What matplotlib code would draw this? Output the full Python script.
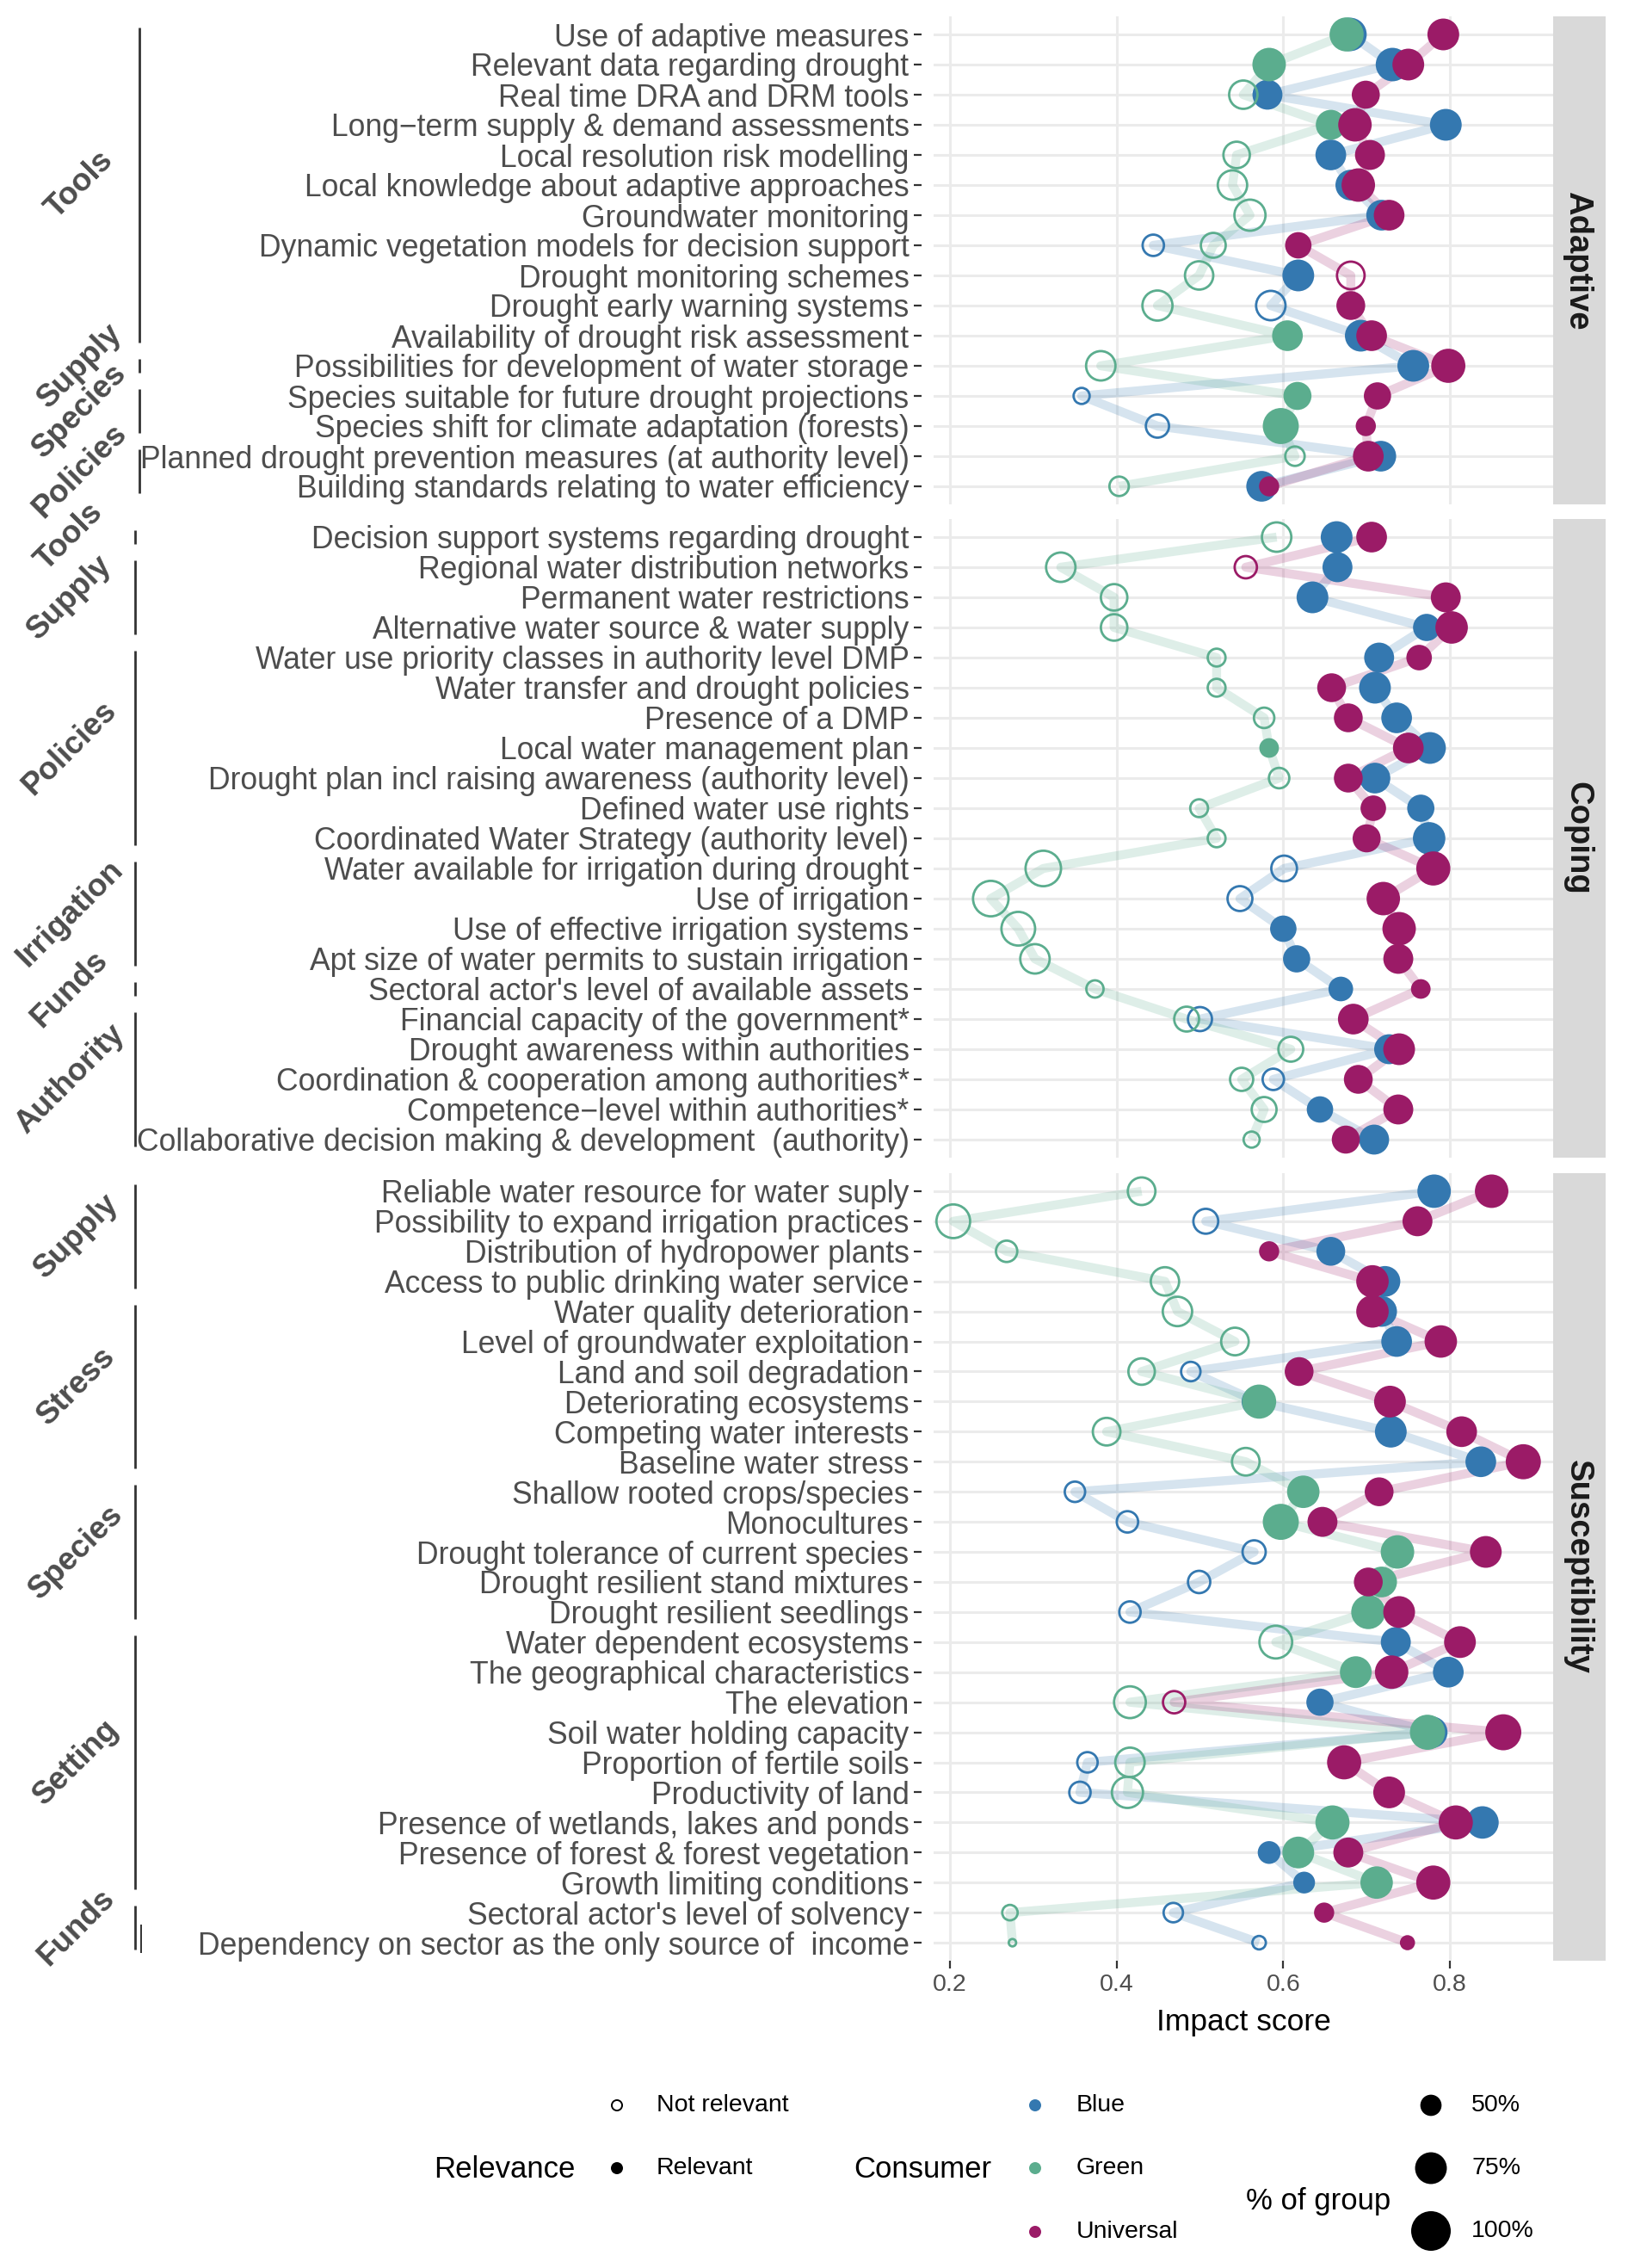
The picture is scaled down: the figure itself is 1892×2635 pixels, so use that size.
"""Impact scores per drought factor, split by consumer group (Adaptive / Coping / Susceptibility)."""

import matplotlib

matplotlib.use("Agg")
import matplotlib.pyplot as plt  # noqa: E402
import matplotlib.transforms as mtransforms  # noqa: E402
from matplotlib.patches import Rectangle  # noqa: E402
import numpy as np  # noqa: E402

plt.rcParams["font.family"] = ["Liberation Sans", "DejaVu Sans"]

# ---------------------------------------------------------------- data
adaptive_items = [
    "Use of adaptive measures",
    "Relevant data regarding drought",
    "Real time DRA and DRM tools",
    "Long\u2212term supply & demand assessments",
    "Local resolution risk modelling",
    "Local knowledge about adaptive approaches",
    "Groundwater monitoring",
    "Dynamic vegetation models for decision support",
    "Drought monitoring schemes",
    "Drought early warning systems",
    "Availability of drought risk assessment",
    "Possibilities for development of water storage",
    "Species suitable for future drought projections",
    "Species shift for climate adaptation (forests)",
    "Planned drought prevention measures (at authority level)",
    "Building standards relating to water efficiency",
]
adaptive_blue = [0.680, 0.731, 0.581, 0.795, 0.657, 0.681, 0.718, 0.444, 0.618, 0.585, 0.693, 0.756, 0.358, 0.449, 0.717, 0.574]
adaptive_blue_pct = [80, 80, 70, 75, 72, 72, 72, 55, 75, 75, 75, 75, 45, 59, 72, 72]
adaptive_blue_rel = [1, 1, 1, 1, 1, 1, 1, 0, 1, 0, 1, 1, 0, 0, 1, 1]
adaptive_green = [0.676, 0.583, 0.552, 0.657, 0.544, 0.539, 0.560, 0.516, 0.499, 0.449, 0.605, 0.381, 0.617, 0.597, 0.614, 0.403]
adaptive_green_pct = [82, 80, 72, 70, 67, 75, 80, 63, 72, 77, 72, 75, 65, 88, 51, 51]
adaptive_green_rel = [1, 1, 0, 1, 0, 0, 0, 0, 0, 0, 1, 0, 1, 1, 0, 0]
adaptive_univ = [0.792, 0.750, 0.699, 0.686, 0.704, 0.690, 0.727, 0.618, 0.681, 0.681, 0.706, 0.798, 0.713, 0.699, 0.702, 0.583]
adaptive_univ_pct = [75, 75, 65, 80, 70, 80, 72, 61, 70, 67, 72, 82, 63, 48, 72, 48]
adaptive_univ_rel = [1, 1, 1, 1, 1, 1, 1, 1, 0, 1, 1, 1, 1, 1, 1, 1]

coping_items = [
    "Decision support systems regarding drought",
    "Regional water distribution networks",
    "Permanent water restrictions",
    "Alternative water source & water supply",
    "Water use priority classes in authority level DMP",
    "Water transfer and drought policies",
    "Presence of a DMP",
    "Local water management plan",
    "Drought plan incl raising awareness (authority level)",
    "Defined water use rights",
    "Coordinated Water Strategy (authority level)",
    "Water available for irrigation during drought",
    "Use of irrigation",
    "Use of effective irrigation systems",
    "Apt size of water permits to sustain irrigation",
    "Sectoral actor's level of available assets",
    "Financial capacity of the government*",
    "Drought awareness within authorities",
    "Coordination & cooperation among authorities*",
    "Competence\u2212level within authorities*",
    "Collaborative decision making & development  (authority)",
]
coping_blue = [0.664, 0.665, 0.635, 0.772, 0.715, 0.710, 0.736, 0.776, 0.710, 0.765, 0.775,
               0.601, 0.548, 0.600, 0.616, 0.669, 0.500, 0.727, 0.588, 0.644, 0.709]
coping_blue_pct = [75, 70, 75, 63, 70, 75, 72, 75, 72, 63, 77, 65, 63, 61, 63, 57, 61, 70, 55, 61, 70]
coping_blue_rel = [1, 1, 1, 1, 1, 1, 1, 1, 1, 1, 1, 0, 0, 1, 1, 1, 0, 1, 0, 1, 1]
coping_green = [0.592, 0.333, 0.397, 0.397, 0.520, 0.520, 0.577, 0.583, 0.595, 0.499, 0.520,
                0.312, 0.249, 0.282, 0.302, 0.374, 0.484, 0.609, 0.550, 0.577, 0.562]
coping_green_pct = [75, 75, 67, 67, 48, 48, 53, 47, 53, 48, 48, 94, 94, 88, 75, 47, 63, 63, 59, 63, 45]
coping_green_rel = [0, 0, 0, 0, 0, 0, 0, 1, 0, 0, 0, 0, 0, 0, 0, 0, 0, 0, 0, 0, 0]
coping_univ = [0.706, 0.555, 0.795, 0.802, 0.763, 0.658, 0.678, 0.750, 0.678, 0.708, 0.700,
               0.780, 0.720, 0.739, 0.738, 0.765, 0.684, 0.739, 0.690, 0.738, 0.675]
coping_univ_pct = [72, 57, 70, 77, 59, 67, 67, 72, 67, 59, 65, 82, 80, 80, 70, 47, 72, 75, 67, 70, 65]
coping_univ_rel = [1, 0, 1, 1, 1, 1, 1, 1, 1, 1, 1, 1, 1, 1, 1, 1, 1, 1, 1, 1, 1]

susc_items = [
    "Reliable water resource for water suply",
    "Possibility to expand irrigation practices",
    "Distribution of hydropower plants",
    "Access to public drinking water service",
    "Water quality deterioration",
    "Level of groundwater exploitation",
    "Land and soil degradation",
    "Deteriorating ecosystems",
    "Competing water interests",
    "Baseline water stress",
    "Shallow rooted crops/species",
    "Monocultures",
    "Drought tolerance of current species",
    "Drought resilient stand mixtures",
    "Drought resilient seedlings",
    "Water dependent ecosystems",
    "The geographical characteristics",
    "The elevation",
    "Soil water holding capacity",
    "Proportion of fertile soils",
    "Productivity of land",
    "Presence of wetlands, lakes and ponds",
    "Presence of forest & forest vegetation",
    "Growth limiting conditions",
    "Sectoral actor's level of solvency",
    "Dependency on sector as the only source of  income",
]
susc_blue = [0.781, 0.507, 0.657, 0.722, 0.718, 0.736, 0.489, 0.568, 0.729, 0.837, 0.350, 0.413, 0.565,
             0.499, 0.416, 0.735, 0.798, 0.644, 0.778, 0.365, 0.356, 0.839, 0.583, 0.625, 0.468, 0.571]
susc_blue_pct = [80, 63, 67, 72, 72, 72, 51, 70, 75, 72, 53, 55, 59, 57, 55, 70, 72, 63, 75, 53, 55, 77, 53, 51, 51, 41]
susc_blue_rel = [1, 0, 1, 1, 1, 1, 0, 1, 1, 1, 0, 0, 0, 0, 0, 1, 1, 1, 1, 0, 0, 1, 1, 1, 0, 0]
susc_green = [0.430, 0.204, 0.268, 0.458, 0.473, 0.542, 0.430, 0.571, 0.388, 0.555, 0.624, 0.597, 0.737,
              0.718, 0.702, 0.591, 0.687, 0.416, 0.773, 0.416, 0.413, 0.659, 0.618, 0.712, 0.272, 0.275]
susc_green_pct = [70, 88, 55, 72, 75, 70, 67, 82, 70, 70, 77, 88, 80, 72, 82, 85, 75, 82, 85, 75, 80, 82, 75, 77, 44, 34]
susc_green_rel = [0, 0, 0, 0, 0, 0, 0, 1, 0, 0, 1, 1, 1, 1, 1, 0, 1, 0, 1, 0, 0, 1, 1, 1, 0, 0]
susc_univ = [0.850, 0.761, 0.583, 0.707, 0.707, 0.789, 0.619, 0.728, 0.814, 0.888, 0.715, 0.647, 0.843,
             0.702, 0.739, 0.812, 0.730, 0.469, 0.864, 0.673, 0.727, 0.807, 0.678, 0.780, 0.649, 0.749]
susc_univ_pct = [80, 70, 48, 77, 77, 77, 67, 75, 72, 85, 67, 70, 75, 67, 75, 75, 80, 57, 88, 82, 75, 82, 70, 82, 48, 40]
susc_univ_rel = [1, 1, 1, 1, 1, 1, 1, 1, 1, 1, 1, 1, 1, 1, 1, 1, 1, 0, 1, 1, 1, 1, 1, 1, 1, 1]

# item groups shown in the left margin: (label, first row, last row)
adaptive_groups = [("Tools", 1, 11), ("Supply", 12, 12), ("Species", 13, 14), ("Policies", 15, 16)]
coping_groups = [("Tools", 1, 1), ("Supply", 2, 4), ("Policies", 5, 11),
                 ("Irrigation", 12, 15), ("Funds", 16, 16), ("Authority", 17, 21)]
susc_groups = [("Supply", 1, 4), ("Stress", 5, 10), ("Species", 11, 15), ("Setting", 16, 24), ("Funds", 25, 26)]

consumers = ["Blue", "Green", "Universal"]
legend_pcts = [50, 75, 100]
x_ticks = [0.2, 0.4, 0.6, 0.8]

# ---------------------------------------------------------------- style
COL = {"Blue": "#3478B0", "Green": "#5BAD8E", "Universal": "#9B1B67"}
GRID = "#EBEBEB"
TXT = "#4D4D4D"
OPEN_LW = 2.0
W, H = 1892, 2635
X_LEFT, X_RIGHT, STRIP_R = 1085, 1805, 1866
XLIM = (0.1804, 0.9238)


def diam_px(pct):
    pct = np.asarray(pct, dtype=float)
    return np.sqrt(np.clip(2116 - 3012 * (1 - pct / 100.0), 40, None))


def frac_rect(x0, y0, x1, y1):
    return [x0 / W, 1 - y1 / H, (x1 - x0) / W, (y1 - y0) / H]


fig = plt.figure(figsize=(W / 100, H / 100), dpi=100)
ov = fig.add_axes([0, 0, 1, 1], zorder=0)
ov.set_xlim(0, W)
ov.set_ylim(H, 0)
ov.axis("off")

# (strip title, top px, bottom px, items, groups, bracket x, group label x, series)
panels = [
    ("Adaptive", 19, 586, adaptive_items, adaptive_groups, 162, 93,
     [(adaptive_blue, adaptive_blue_pct, adaptive_blue_rel),
      (adaptive_green, adaptive_green_pct, adaptive_green_rel),
      (adaptive_univ, adaptive_univ_pct, adaptive_univ_rel)]),
    ("Coping", 603, 1345, coping_items, coping_groups, 157, 81,
     [(coping_blue, coping_blue_pct, coping_blue_rel),
      (coping_green, coping_green_pct, coping_green_rel),
      (coping_univ, coping_univ_pct, coping_univ_rel)]),
    ("Susceptibility", 1363, 2278, susc_items, susc_groups, 157, 89,
     [(susc_blue, susc_blue_pct, susc_blue_rel),
      (susc_green, susc_green_pct, susc_green_rel),
      (susc_univ, susc_univ_pct, susc_univ_rel)]),
]

for pi, (title, top, bottom, items, groups, gx, lx, series) in enumerate(panels):
    ax = fig.add_axes(frac_rect(X_LEFT, top, X_RIGHT, bottom), zorder=1)
    ax.patch.set_alpha(0)
    n = len(items)
    y = np.arange(1, n + 1)

    for name, (score, pct, rel) in zip(consumers, series):
        ax.plot(score, y, color=COL[name], alpha=0.2, lw=7.5,
                solid_joinstyle="round", solid_capstyle="butt", zorder=2)
    for k, (name, (score, pct, rel)) in enumerate(zip(consumers, series)):
        score = np.asarray(score)
        rel = np.asarray(rel) == 1
        d = diam_px(pct)
        ax.scatter(score[rel], y[rel], s=(0.72 * d[rel]) ** 2, color=COL[name],
                   edgecolors="none", zorder=3 + k)
        ax.scatter(score[~rel], y[~rel], s=(0.72 * d[~rel] - OPEN_LW) ** 2, facecolors="none",
                   edgecolors=COL[name], linewidths=OPEN_LW, zorder=3 + k)

    ax.set_xlim(*XLIM)
    ax.set_ylim(n + 0.6, 0.4)
    ax.set_yticks(y)
    ax.set_yticklabels(items)
    ax.set_xticks(x_ticks)
    ax.set_xticklabels([f"{t:.1f}" for t in x_ticks])
    ax.grid(True, color=GRID, lw=2.2, zorder=0)
    ax.set_axisbelow(True)
    for s in ax.spines.values():
        s.set_visible(False)
    ax.spines["left"].set_position(("outward", 10))
    ax.tick_params(axis="y", length=6.5, width=1.6, color="#333333", pad=4,
                   labelsize=25.6, labelcolor=TXT)
    if pi == len(panels) - 1:
        ax.tick_params(axis="x", length=6.5, width=1.6, color="#333333", pad=4.5,
                       labelsize=20.5, labelcolor=TXT)
        ax.set_xlabel("Impact score", fontsize=25.5, color="black", labelpad=10)
    else:
        ax.tick_params(axis="x", bottom=False, labelbottom=False)

    # facet strip on the right
    ov.add_patch(Rectangle((X_RIGHT, top), STRIP_R - X_RIGHT, bottom - top,
                           facecolor="#D9D9D9", edgecolor="none"))
    ov.text((X_RIGHT + STRIP_R) / 2 - 2, (top + bottom) / 2, title, rotation=-90,
            ha="center", va="center", fontsize=27.5, fontweight="bold", color="#1A1A1A")

    # group brackets and labels in the left margin
    trans = mtransforms.blended_transform_factory(ov.transData, ax.transData)
    for label, r0, r1 in groups:
        ax.plot([gx, gx], [r0 - 0.23, r1 + 0.23], color="#333333", lw=2.0,
                transform=trans, clip_on=False, solid_capstyle="butt")
        ax.text(lx, (r0 + r1) / 2, label, transform=trans, rotation=45,
                ha="center", va="center", fontsize=26.5, fontweight="bold", color=TXT)
    if title == "Susceptibility":
        ax.plot([164, 164], [25.4, 26.35], color="#333333", lw=1.4,
                transform=trans, clip_on=False, solid_capstyle="butt")

# ---------------------------------------------------------------- legends
ov.text(504, 2520, "Relevance", fontsize=25, ha="left", va="center", color="black")
ov.scatter([717], [2446], s=(0.72 * 14 - 1.4) ** 2, facecolors="none", edgecolors="black", linewidths=1.4)
ov.scatter([717], [2519], s=(0.72 * 14) ** 2, color="black", edgecolors="none")
ov.text(763, 2446, "Not relevant", fontsize=20.5, ha="left", va="center", color="black")
ov.text(763, 2519, "Relevant", fontsize=20.5, ha="left", va="center", color="black")

ov.text(992, 2520, "Consumer", fontsize=25, ha="left", va="center", color="black")
for name, yy in zip(consumers, [2446, 2519, 2593]):
    ov.scatter([1203], [yy], s=(0.72 * 14) ** 2, color=COL[name], edgecolors="none")
    ov.text(1251, yy, name, fontsize=20.5, ha="left", va="center", color="black")

ov.text(1448, 2558, "% of group", fontsize=25, ha="left", va="center", color="black")
for p, yy in zip(legend_pcts, [2446, 2519, 2592]):
    ov.scatter([1663], [yy], s=(0.72 * diam_px(p)) ** 2, color="black", edgecolors="none")
    ov.text(1710, yy, f"{p}%", fontsize=20.5, ha="left", va="center", color="black")

fig.savefig("out.png", dpi=100)
